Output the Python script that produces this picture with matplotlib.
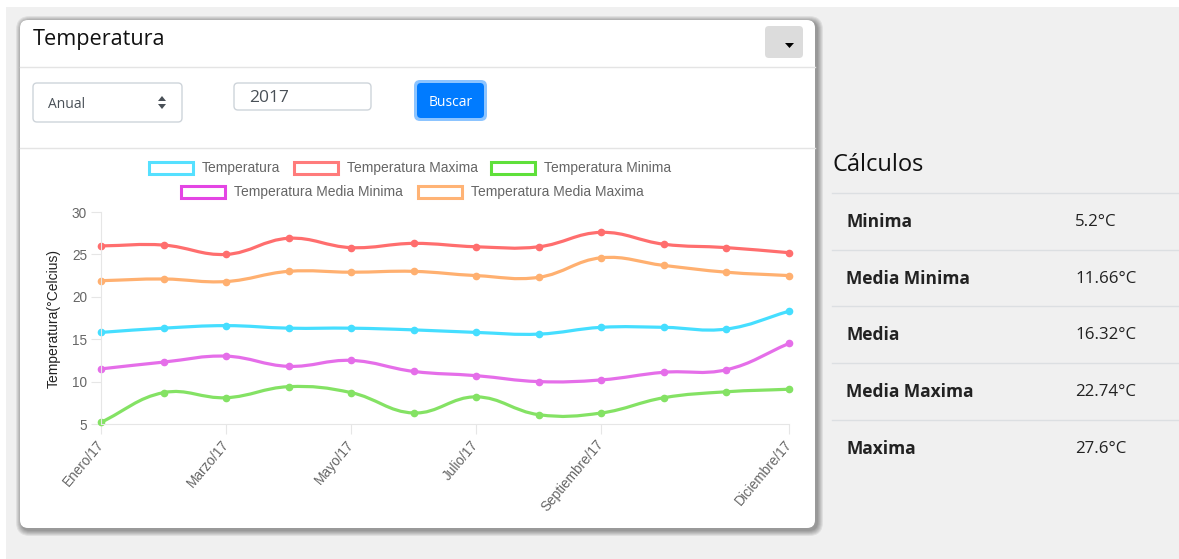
import numpy as np
import matplotlib
matplotlib.use("Agg")
import matplotlib.pyplot as plt
from matplotlib.path import Path
from matplotlib.patches import PathPatch, FancyBboxPatch, Rectangle, Polygon


# --- DATA ---

months = ["Enero/17", "Febrero/17", "Marzo/17", "Abril/17", "Mayo/17", "Junio/17",
          "Julio/17", "Agosto/17", "Septiembre/17", "Octubre/17", "Noviembre/17", "Diciembre/17"]
shown_ticks = [0, 2, 4, 6, 8, 11]

temperatura = [15.8, 16.3, 16.6, 16.3, 16.3, 16.1, 15.8, 15.6, 16.4, 16.4, 16.2, 18.3]
temp_maxima = [26.0, 26.1, 25.0, 26.9, 25.8, 26.3, 25.9, 25.9, 27.6, 26.2, 25.8, 25.2]
temp_minima = [5.2, 8.7, 8.1, 9.4, 8.7, 6.3, 8.2, 6.1, 6.3, 8.1, 8.8, 9.1]
temp_media_minima = [11.5, 12.3, 13.0, 11.8, 12.5, 11.2, 10.7, 10.0, 10.2, 11.1, 11.4, 14.5]
temp_media_maxima = [21.9, 22.1, 21.8, 23.0, 22.9, 23.0, 22.5, 22.3, 24.6, 23.7, 22.9, 22.5]

series_names = ["Temperatura", "Temperatura Maxima", "Temperatura Minima",
                "Temperatura Media Minima", "Temperatura Media Maxima"]
series_values = [temperatura, temp_maxima, temp_minima, temp_media_minima, temp_media_maxima]
line_colors = ["#45deff", "#ff6e6e", "#84e264", "#e56ee9", "#ffb070"]
legend_colors = ["#55e0ff", "#ff7b7b", "#5fe03a", "#e445e4", "#ffb375"]

calc_labels = ["Minima", "Media Minima", "Media", "Media Maxima", "Maxima"]
calc_values = ["5.2°C", "11.66°C", "16.32°C", "22.74°C", "27.6°C"]

W, H = 1179, 559
UI_FONT = "Open Sans"
CHART_FONT = "Liberation Sans"


def spline_path(xs, ys, sx, sy, tension=0.4):
    """Chart.js style bezier curve through the points (distances in pixel space)."""
    pts = np.column_stack([np.asarray(xs, float) * sx, np.asarray(ys, float) * sy])
    n = len(pts)
    cp_in, cp_out = [], []
    for i in range(n):
        prev = pts[max(i - 1, 0)]
        cur = pts[i]
        nxt = pts[min(i + 1, n - 1)]
        d01 = np.hypot(*(cur - prev))
        d12 = np.hypot(*(nxt - cur))
        tot = d01 + d12
        s01 = d01 / tot if tot else 0
        s12 = d12 / tot if tot else 0
        cp_in.append(cur - tension * s01 * (nxt - prev))
        cp_out.append(cur + tension * s12 * (nxt - prev))
    verts = [pts[0]]
    codes = [Path.MOVETO]
    for i in range(n - 1):
        verts += [cp_out[i], cp_in[i + 1], pts[i + 1]]
        codes += [Path.CURVE4] * 3
    verts = np.array(verts) / [sx, sy]
    return Path(verts, codes)


fig = plt.figure(figsize=(W / 100, H / 100), dpi=100)
fig.patch.set_facecolor("#f0f0f0")

# --- PAGE BACKGROUND / CARD (pixel coordinates) ---
bg = fig.add_axes([0, 0, 1, 1], zorder=0)
bg.set_xlim(0, W)
bg.set_ylim(H, 0)
bg.axis("off")

bg.add_patch(Rectangle((0, 0), W, 7, fc="white", ec="none"))
bg.add_patch(Rectangle((0, 0), 6, H, fc="white", ec="none"))

cx0, cy0, cx1, cy1 = 20, 20, 815, 528
for i in range(6, 0, -1):
    bg.add_patch(FancyBboxPatch((cx0 - i + 2, cy0 - i + 2), cx1 - cx0 + 2 * i, cy1 - cy0 + 2 * i,
                                boxstyle=f"round,pad=0,rounding_size={8 + i}",
                                fc="black", ec="none", alpha=0.07))
bg.add_patch(FancyBboxPatch((cx0, cy0), cx1 - cx0, cy1 - cy0,
                            boxstyle="round,pad=0,rounding_size=8", fc="white", ec="none"))

# header
bg.text(33, 40, "Temperatura", fontsize=15.6, family=UI_FONT, color="#111", va="center")
bg.add_patch(FancyBboxPatch((765, 26), 38, 32, boxstyle="round,pad=0,rounding_size=4",
                            fc="#dcdcdc", ec="none"))
bg.add_patch(Polygon([[785, 43], [794, 43], [789.5, 48]], closed=True, fc="black", ec="none"))
bg.plot([cx0, cx1], [67, 67], color="#e4e4e4", lw=1)

# controls
bg.add_patch(FancyBboxPatch((33, 83), 149, 39, boxstyle="round,pad=0,rounding_size=4",
                            fc="white", ec="#ced4da", lw=1))
bg.text(48, 104, "Anual", fontsize=10, family=UI_FONT, color="#495057", va="center")
bg.add_patch(Polygon([[158, 101], [166, 101], [162, 96]], closed=True, fc="#495057", ec="none"))
bg.add_patch(Polygon([[158, 104], [166, 104], [162, 109]], closed=True, fc="#495057", ec="none"))

bg.add_patch(FancyBboxPatch((234, 83), 137, 27, boxstyle="round,pad=0,rounding_size=4",
                            fc="white", ec="#ced4da", lw=1))
bg.text(249, 98.5, "2017", fontsize=12.5, family=UI_FONT, color="#495057", va="center")

bg.add_patch(FancyBboxPatch((414, 80), 73, 41, boxstyle="round,pad=0,rounding_size=6",
                            fc="#8cc4ff", ec="none"))
bg.add_patch(FancyBboxPatch((417, 83), 67, 35, boxstyle="round,pad=0,rounding_size=4",
                            fc="#007bff", ec="none"))
bg.text(450.5, 102, "Buscar", fontsize=10, family=UI_FONT, color="white", ha="center", va="center")
bg.plot([cx0, cx1], [148, 148], color="#e4e4e4", lw=1)

# legend (chart.js style)
legend_pos = [(147, 168), (292, 168), (489, 168), (179, 192), (416, 192)]
for (lx, ly), name, col in zip(legend_pos, series_names, legend_colors):
    bg.add_patch(Rectangle((lx + 1.5, ly - 6), 44, 12, fc="white", ec=col, lw=2.2))
    bg.text(lx + 55, ly, name, fontsize=10, family=CHART_FONT, color="#666666", va="center")

# right panel
bg.text(832, 165, "Cálculos", fontsize=17, family=UI_FONT, color="#111", va="center")
row_lines = [193, 250, 306, 363, 420]
for k, (lab, val) in enumerate(zip(calc_labels, calc_values)):
    y_line = row_lines[k]
    bg.plot([832, W], [y_line, y_line], color="#dcdfe2", lw=1)
    yc = y_line + 29
    bg.text(846, yc, lab, fontsize=12.5, family=UI_FONT, weight="bold", color="#222", va="center")
    bg.text(1075, yc, val, fontsize=12.2, family=UI_FONT, color="#222", va="center")

# --- LINE CHART ---
left, right, top, bottom = 101, 789, 212, 424
ax = fig.add_axes([left / W, 1 - bottom / H, (right - left) / W, (bottom - top) / H], zorder=1)
ax.patch.set_alpha(0)
ax.set_xlim(0, len(months) - 1)
ax.set_ylim(5, 30)
sx = (right - left) / (len(months) - 1)
sy = (bottom - top) / 25

x = np.arange(len(months))
for vals, col in zip(series_values, line_colors):
    path = spline_path(x, vals, sx, sy)
    ax.add_patch(PathPatch(path, fc="none", ec=col, lw=2.3, capstyle="round", joinstyle="round"))
    ax.plot(x, vals, "o", ms=4.5, color=col, mec=col, clip_on=False)

ax.set_xticks(shown_ticks)
ax.set_xticklabels([months[i] for i in shown_ticks], rotation=50, ha="right", va="center",
                   rotation_mode="anchor", family=CHART_FONT, fontsize=9.8, color="#666666")
ax.set_yticks([5, 10, 15, 20, 25, 30])
ax.set_yticklabels(["5", "10", "15", "20", "25", "30"], family=CHART_FONT, fontsize=9.8,
                   color="#666666")
ax.tick_params(axis="x", length=7, color="#e6e6e6", pad=6)
ax.tick_params(axis="y", length=7, color="#e6e6e6", pad=3)
for side in ["top", "right"]:
    ax.spines[side].set_visible(False)
for side in ["left", "bottom"]:
    ax.spines[side].set_color("#e6e6e6")
ax.set_ylabel("Temperatura(°Celcius)", family=CHART_FONT, fontsize=10, color="#222", labelpad=8)

fig.savefig("out.png", dpi=100, facecolor=fig.get_facecolor())
